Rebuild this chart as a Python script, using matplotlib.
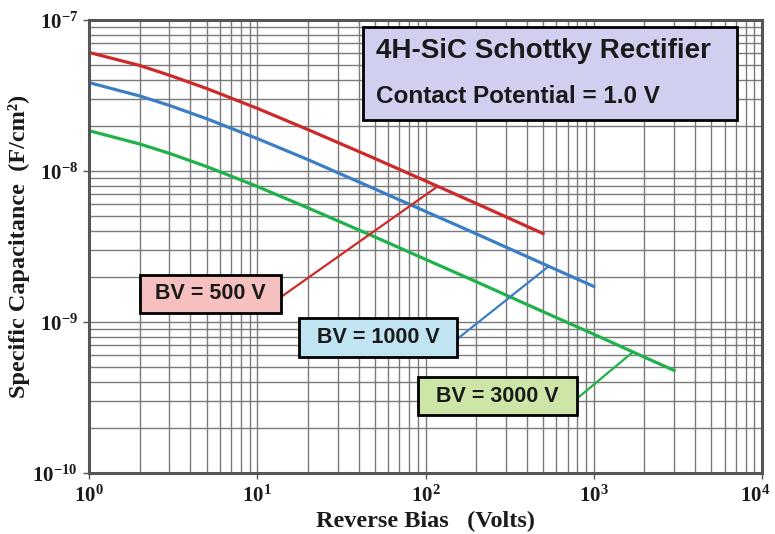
import matplotlib.pyplot as plt
import matplotlib.transforms as mtransforms
from matplotlib.patches import Rectangle
from matplotlib.ticker import LogLocator, NullFormatter

plt.rcParams["mathtext.fontset"] = "custom"
plt.rcParams["mathtext.rm"] = "Liberation Serif:bold"
plt.rcParams["mathtext.it"] = "Liberation Serif:bold"
plt.rcParams["mathtext.bf"] = "Liberation Serif:bold"

# reverse bias (V) and specific capacitance (F/cm^2)
v_500 = [1, 2, 3, 5, 10, 20, 50, 100, 200, 500]
c_500 = [6.1e-8, 5.0e-8, 4.31e-8, 3.52e-8, 2.60e-8, 1.88e-8, 1.21e-8, 8.6e-9, 6.1e-9, 3.85e-9]

v_1000 = [1, 2, 3, 5, 10, 20, 50, 100, 200, 500, 1000]
c_1000 = [3.85e-8, 3.14e-8, 2.72e-8, 2.22e-8, 1.64e-8, 1.19e-8, 7.6e-9, 5.4e-9, 3.84e-9, 2.43e-9, 1.72e-9]

v_3000 = [1, 2, 3, 5, 10, 20, 50, 100, 200, 500, 1000, 2000, 3000]
c_3000 = [1.85e-8, 1.51e-8, 1.31e-8, 1.07e-8, 7.9e-9, 5.7e-9, 3.66e-9, 2.60e-9, 1.85e-9,
          1.17e-9, 8.3e-10, 5.85e-10, 4.78e-10]

# leader lines: (label end, point on curve)
lead_500 = ([13.9, 116], [1.47e-9, 7.8e-9])
lead_1000 = ([157, 532], [7.83e-10, 2.31e-9])
lead_3000 = ([814, 1684], [3.18e-10, 6.24e-10])

labels = ["BV = 500 V", "BV = 1000 V", "BV = 3000 V"]
title_lines = ["4H-SiC Schottky Rectifier", "Contact Potential = 1.0 V"]

RED, BLUE, GREEN = "#cc2a2a", "#3b7ec3", "#1fb24a"

fig = plt.figure(figsize=(7.75, 5.34), dpi=100)
ax = fig.add_axes([89 / 775, 1 - 473 / 534, 673 / 775, 453 / 534])
ax.set_xscale("log")
ax.set_yscale("log")
ax.set_xlim(1, 1e4)
ax.set_ylim(1e-10, 1e-7)

ax.xaxis.set_minor_locator(LogLocator(base=10, subs=range(2, 10)))
ax.yaxis.set_minor_locator(LogLocator(base=10, subs=range(2, 10)))
ax.xaxis.set_minor_formatter(NullFormatter())
ax.yaxis.set_minor_formatter(NullFormatter())
ax.grid(which="both", color="#7a7a7a", lw=1.0)
ax.set_axisbelow(True)

ax.set_xticks([1, 10, 100, 1000, 10000])
ax.set_xticklabels([r"$10^{0}$", r"$10^{1}$", r"$10^{2}$", r"$10^{3}$", r"$10^{4}$"])
ax.set_yticks([1e-10, 1e-9, 1e-8, 1e-7])
ax.set_yticklabels([r"$10^{-10}$", r"$10^{-9}$", r"$10^{-8}$", r"$10^{-7}$"])
ax.tick_params(which="major", length=4, width=1, color="#555555", labelsize=15,
               pad=4, labelcolor="#1a1a1a")
ax.tick_params(which="minor", length=0)
for s in ax.spines.values():
    s.set_color("#555555")
    s.set_linewidth(2.2)

# nudge the last x tick label so it stays inside the figure
last = ax.get_xticklabels()[-1]
last.set_transform(last.get_transform() + mtransforms.ScaledTranslation(-5 / 72, 0, fig.dpi_scale_trans))

ax.plot(v_500, c_500, color=RED, lw=2.3)
ax.plot(v_1000, c_1000, color=BLUE, lw=2.3)
ax.plot(v_3000, c_3000, color=GREEN, lw=2.3)
ax.plot(*lead_500, color=RED, lw=1.6)
ax.plot(*lead_1000, color=BLUE, lw=1.6)
ax.plot(*lead_3000, color=GREEN, lw=1.6)

# label boxes in axes fraction
boxes = [
    (0.0758, 0.3532, 0.2095, 0.0839, "#f6c0c0"),
    (0.3120, 0.2561, 0.2348, 0.0861, "#c0e4f2"),
    (0.4889, 0.1280, 0.2363, 0.0839, "#cde6a8"),
]
for (x0, y0, w, h, fc), txt in zip(boxes, labels):
    ax.add_patch(Rectangle((x0, y0), w, h, transform=ax.transAxes, fc=fc, ec="black",
                           lw=2.0, zorder=5))
    ax.text(x0 + w / 2, y0 + h / 2, txt, transform=ax.transAxes, ha="center", va="center",
            family="Liberation Sans", weight="bold", fontsize=15.5, color="#1a1a1a", zorder=6)

ax.add_patch(Rectangle((0.4071, 0.7792), 0.5557, 0.2053, transform=ax.transAxes,
                       fc="#d0cff0", ec="black", lw=2.0, zorder=5))
ax.text(0.4264, 0.9316, title_lines[0], transform=ax.transAxes, ha="left", va="center",
        family="Liberation Sans", weight="bold", fontsize=20, color="#1a1a1a", zorder=6)
ax.text(0.4264, 0.8322, title_lines[1], transform=ax.transAxes, ha="left", va="center",
        family="Liberation Sans", weight="bold", fontsize=17.5, color="#1a1a1a", zorder=6)

ax.set_xlabel("Reverse Bias   (Volts)", family="Liberation Serif", weight="bold",
              fontsize=17.5, labelpad=4, color="#1a1a1a")
ax.set_ylabel("Specific Capacitance  (F/cm²)", family="Liberation Serif", weight="bold",
              fontsize=17.5, color="#1a1a1a")
ax.yaxis.set_label_coords(-0.087, 0.5)

fig.savefig("out.png", dpi=100)
